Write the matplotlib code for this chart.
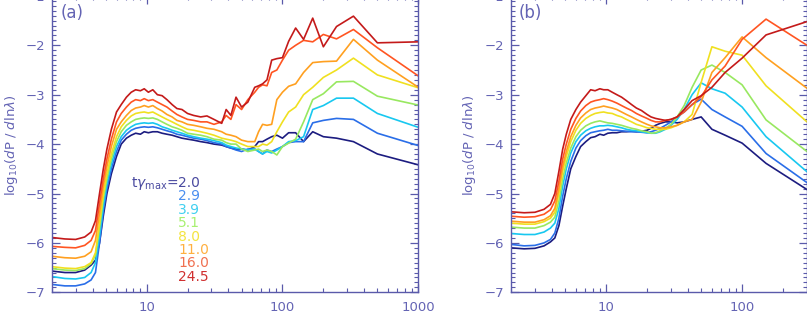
import matplotlib
matplotlib.use("Agg")
import matplotlib.pyplot as plt
from matplotlib.ticker import LogLocator, MultipleLocator, FixedLocator, FixedFormatter, NullFormatter

# ---------------- data ----------------
labels = ["2.0", "2.9", "3.9", "5.1", "8.0", "11.0", "16.0", "24.5"]
colors = ["#1c1c80", "#2a6ee8", "#18c8f0", "#98e860", "#f0e020", "#ffa020", "#ff5522", "#c41a1a"]
text_colors = ["#4a4aa0", "#4a8ef0", "#40d0f0", "#a8f070", "#f4e440", "#ffb040", "#f07050", "#d03030"]

# panel (a)
xa = [2.0, 2.5, 3.0, 3.5, 3.9, 4.2, 4.5, 4.8, 5.1, 5.5, 6.0, 6.5, 7.1, 7.7, 8.3, 9.0, 9.6,
      10.3, 11.1, 12.0, 13.0, 14.1, 15.4, 16.7, 18.2, 20.0, 22.2, 25.0, 27.8, 31.3, 35.7, 38.5, 41.7, 45.5,
      50, 55.6, 62.5, 66.7, 71.4, 76.9, 83.3, 90.9, 100, 111, 125, 143, 167, 200, 250, 333, 500, 1000]

a_navy = [-6.57, -6.60, -6.60, -6.55, -6.45, -6.35, -6.0, -5.45, -5.0, -4.6, -4.25, -4.0, -3.88, -3.82, -3.78, -3.8, -3.75,
          -3.77, -3.75, -3.75, -3.78, -3.8, -3.82, -3.85, -3.88, -3.9, -3.92, -3.95, -3.97, -4.0, -4.02, -4.05, -4.08, -4.1,
          -4.1, -4.12, -4.05, -3.95, -3.95, -3.9, -3.85, -3.82, -3.88, -3.77, -3.77, -3.95, -3.75, -3.85, -3.88, -3.95, -4.2, -4.42]
a_blue = [-6.84, -6.87, -6.87, -6.83, -6.75, -6.6, -6.0, -5.35, -4.9, -4.5, -4.15, -3.92, -3.8, -3.72, -3.68, -3.66, -3.65,
          -3.66, -3.65, -3.67, -3.7, -3.73, -3.76, -3.8, -3.82, -3.85, -3.88, -3.9, -3.93, -3.97, -4.0, -4.05, -4.08, -4.12,
          -4.15, -4.1, -4.1, -4.15, -4.2, -4.12, -4.15, -4.1, -4.05, -3.97, -3.95, -3.95, -3.57, -3.52, -3.48, -3.5, -3.78, -4.03]
a_cyan = [-6.68, -6.72, -6.73, -6.70, -6.6, -6.4, -5.85, -5.25, -4.8, -4.4, -4.05, -3.85, -3.72, -3.65, -3.6, -3.58, -3.57,
          -3.58, -3.57, -3.6, -3.65, -3.68, -3.72, -3.75, -3.78, -3.82, -3.85, -3.88, -3.9, -3.93, -3.97, -4.02, -4.05, -4.08,
          -4.1, -4.12, -4.1, -4.15, -4.2, -4.15, -4.18, -4.12, -4.05, -3.95, -3.93, -3.85, -3.3, -3.22, -3.07, -3.07, -3.38, -3.66]
a_green = [-6.52, -6.55, -6.56, -6.52, -6.42, -6.25, -5.7, -5.1, -4.7, -4.3, -3.95, -3.75, -3.62, -3.55, -3.5, -3.48, -3.47,
           -3.48, -3.47, -3.5, -3.55, -3.6, -3.65, -3.68, -3.72, -3.78, -3.8, -3.82, -3.85, -3.9, -3.92, -3.97, -4.0, -4.0,
           -4.1, -4.15, -4.12, -4.1, -4.15, -4.12, -4.15, -4.22, -4.05, -3.98, -3.9, -3.55, -3.1, -2.98, -2.74, -2.73, -3.03, -3.21]
a_yellow = [-6.48, -6.51, -6.52, -6.48, -6.4, -6.2, -5.6, -5.0, -4.6, -4.2, -3.85, -3.65, -3.52, -3.43, -3.38, -3.36, -3.35,
            -3.37, -3.35, -3.4, -3.45, -3.5, -3.55, -3.6, -3.65, -3.7, -3.72, -3.75, -3.78, -3.82, -3.88, -3.9, -3.92, -3.95,
            -4.0, -4.05, -4.05, -4.05, -4.0, -4.02, -3.95, -3.75, -3.55, -3.35, -3.25, -3.0, -2.85, -2.65, -2.5, -2.26, -2.6, -2.86]
a_orange = [-6.27, -6.30, -6.31, -6.27, -6.18, -5.95, -5.4, -4.85, -4.45, -4.05, -3.7, -3.55, -3.42, -3.32, -3.27, -3.25, -3.22,
            -3.25, -3.22, -3.28, -3.33, -3.4, -3.45, -3.52, -3.55, -3.6, -3.62, -3.65, -3.68, -3.7, -3.75, -3.8, -3.82, -3.85,
            -3.92, -3.95, -3.95, -3.75, -3.6, -3.62, -3.6, -3.1, -2.95, -2.83, -2.78, -2.55, -2.35, -2.33, -2.32, -1.88, -2.3, -2.85]
a_orred = [-6.07, -6.09, -6.10, -6.05, -5.95, -5.75, -5.2, -4.7, -4.3, -3.9, -3.55, -3.38, -3.25, -3.15, -3.1, -3.12, -3.08,
           -3.12, -3.1, -3.15, -3.2, -3.25, -3.33, -3.4, -3.45, -3.5, -3.52, -3.55, -3.55, -3.6, -3.55, -3.42, -3.5, -3.2,
           -3.3, -3.1, -2.95, -2.85, -2.8, -2.82, -2.55, -2.5, -2.3, -2.1, -2.0, -1.9, -1.93, -1.78, -1.87, -1.68, -2.05, -2.62]
a_red = [-5.89, -5.92, -5.93, -5.88, -5.78, -5.55, -5.0, -4.5, -4.1, -3.7, -3.35, -3.2, -3.05, -2.95, -2.9, -2.92, -2.88,
         -2.95, -2.9, -3.0, -3.02, -3.1, -3.2, -3.28, -3.3, -3.38, -3.42, -3.45, -3.43, -3.5, -3.58, -3.3, -3.42, -3.05,
         -3.25, -3.15, -2.85, -2.82, -2.78, -2.7, -2.3, -2.27, -2.25, -1.92, -1.65, -1.88, -1.45, -2.03, -1.62, -1.41, -1.95, -1.93]

# panel (b)
xb = [2.0, 2.5, 3.0, 3.5, 3.9, 4.2, 4.5, 4.8, 5.1, 5.5, 6.0, 6.5, 7.1, 7.7, 8.3, 9.0, 9.6,
      10.3, 11.1, 12.0, 13.0, 14.1, 15.4, 16.7, 18.2, 20.0, 21.4, 23.1, 25.0, 27.3, 30.0, 33.3, 37.5, 42.9,
      50, 60, 75, 100, 150, 300]

b_navy = [-6.10, -6.12, -6.11, -6.06, -5.98, -5.9, -5.65, -5.25, -4.9, -4.5, -4.25, -4.05, -3.95, -3.87, -3.85, -3.8, -3.82,
          -3.78, -3.77, -3.77, -3.75, -3.75, -3.74, -3.75, -3.74, -3.72, -3.68, -3.62, -3.58, -3.55, -3.55, -3.57, -3.55, -3.5,
          -3.45, -3.7, -3.82, -3.98, -4.39, -4.92]
b_blue = [-6.03, -6.06, -6.05, -6.0, -5.93, -5.8, -5.5, -5.05, -4.7, -4.35, -4.08, -3.93, -3.83, -3.77, -3.75, -3.73, -3.72,
          -3.7, -3.72, -3.72, -3.73, -3.74, -3.75, -3.75, -3.76, -3.77, -3.75, -3.72, -3.68, -3.62, -3.55, -3.45, -3.35, -3.2,
          -3.09, -3.3, -3.45, -3.64, -4.19, -4.78]
b_cyan = [-5.81, -5.83, -5.83, -5.78, -5.7, -5.6, -5.3, -4.85, -4.5, -4.18, -3.95, -3.82, -3.73, -3.68, -3.65, -3.63, -3.63,
          -3.62, -3.63, -3.65, -3.67, -3.7, -3.72, -3.73, -3.75, -3.77, -3.78, -3.78, -3.75, -3.7, -3.62, -3.5, -3.3, -3.0,
          -2.76, -2.88, -2.97, -3.25, -3.85, -4.56]
b_green = [-5.68, -5.70, -5.70, -5.65, -5.58, -5.48, -5.15, -4.7, -4.38, -4.08, -3.85, -3.72, -3.63, -3.58, -3.55, -3.53, -3.55,
           -3.57, -3.58, -3.6, -3.62, -3.65, -3.68, -3.7, -3.73, -3.75, -3.78, -3.77, -3.73, -3.68, -3.6, -3.45, -3.22, -2.85,
           -2.5, -2.4, -2.55, -2.8, -3.51, -4.15]
b_yellow = [-5.60, -5.62, -5.62, -5.57, -5.5, -5.38, -5.0, -4.55, -4.25, -3.95, -3.72, -3.58, -3.48, -3.42, -3.38, -3.36, -3.35,
            -3.37, -3.38, -3.42, -3.45, -3.5, -3.55, -3.6, -3.63, -3.67, -3.68, -3.7, -3.7, -3.7, -3.67, -3.62, -3.55, -3.4,
            -2.75, -2.03, -2.12, -2.2, -2.82, -3.55]
b_orange = [-5.56, -5.58, -5.58, -5.53, -5.45, -5.3, -4.9, -4.45, -4.15, -3.85, -3.62, -3.47, -3.37, -3.3, -3.27, -3.25, -3.23,
            -3.25, -3.27, -3.3, -3.35, -3.4, -3.45, -3.5, -3.55, -3.6, -3.63, -3.65, -3.67, -3.67, -3.65, -3.62, -3.55, -3.5,
            -3.15, -2.55, -2.25, -1.83, -2.25, -2.87]
b_orred = [-5.46, -5.48, -5.47, -5.42, -5.33, -5.15, -4.75, -4.3, -4.0, -3.7, -3.48, -3.33, -3.22, -3.15, -3.12, -3.1, -3.08,
           -3.1, -3.13, -3.17, -3.22, -3.27, -3.32, -3.38, -3.43, -3.48, -3.52, -3.55, -3.55, -3.52, -3.5, -3.45, -3.35, -3.2,
           -3.04, -2.7, -2.42, -1.88, -1.47, -2.0]
b_red = [-5.37, -5.39, -5.38, -5.32, -5.22, -5.0, -4.55, -4.1, -3.8, -3.5, -3.3, -3.15, -3.02, -2.9, -2.92, -2.88, -2.9,
         -2.9, -2.95, -3.0, -3.05, -3.12, -3.2, -3.27, -3.32, -3.4, -3.45, -3.48, -3.5, -3.52, -3.5, -3.45, -3.3, -3.12,
         -3.02, -2.85, -2.55, -2.26, -1.79, -1.52]

series_a = [a_navy, a_blue, a_cyan, a_green, a_yellow, a_orange, a_orred, a_red]
series_b = [b_navy, b_blue, b_cyan, b_green, b_yellow, b_orange, b_orred, b_red]

ytick_vals = [-7, -6, -5, -4, -3, -2, -1]
xticks_a = [10, 100, 1000]
xticks_b = [10, 100]

# ---------------- figure ----------------
W, H = 807, 313
fig = plt.figure(figsize=(W / 100, H / 100), dpi=100)
axcol = "#5a5aaa"
txtcol = "#6464b4"

def px_rect(x0, x1, ybot, ytop):
    return [x0 / W, (H - ybot) / H, (x1 - x0) / W, (ybot - ytop) / H]

axA = fig.add_axes(px_rect(51.7, 418.3, 292.3, -4.1))
axB = fig.add_axes(px_rect(511.0, 807.0, 292.3, -4.1))

def style(ax, xmax, xticks, panel, label_x):
    ax.set_xscale("log")
    ax.set_xlim(2, xmax)
    ax.set_ylim(-7, -1)
    for s in ax.spines.values():
        s.set_color(axcol)
        s.set_linewidth(1.0)
    ax.xaxis.set_major_locator(FixedLocator(xticks))
    ax.xaxis.set_major_formatter(FixedFormatter([str(t) for t in xticks]))
    ax.xaxis.set_minor_locator(LogLocator(base=10, subs=range(2, 10), numticks=20))
    ax.xaxis.set_minor_formatter(NullFormatter())
    ax.yaxis.set_major_locator(FixedLocator(ytick_vals))
    ax.yaxis.set_minor_locator(MultipleLocator(0.1))
    ax.tick_params(which="both", direction="in", top=True, right=True, color=axcol,
                   labelcolor=txtcol, labelsize=9.5)
    ax.tick_params(which="major", length=6, width=0.9)
    ax.tick_params(which="minor", length=3, width=0.8)
    ax.tick_params(axis="x", pad=6)
    ax.tick_params(axis="y", pad=5)
    ax.set_ylabel(r"log$_{10}$($\mathit{d}$P / $\mathit{d}$ln$\lambda$)", color=txtcol, fontsize=9.5)
    ax.yaxis.set_label_coords(label_x, 0.497)
    ax.text(0.025, 0.942, panel, transform=ax.transAxes, color=txtcol, fontsize=12,
            ha="left", va="center")

for ys, c in zip(series_a, colors):
    axA.plot(xa, ys, color=c, lw=1.2)
for ys, c in zip(series_b, colors):
    axB.plot(xb, ys, color=c, lw=1.2)

style(axA, 1000, xticks_a, "(a)", -0.086)
style(axB, 300, xticks_b, "(b)", -0.110)

# legend text in panel (a)
x_num = (178 - 51.7) / 366.6
for i, (lab, tc) in enumerate(zip(labels, text_colors)):
    py = 183 + 13.4 * i
    yax = (292.3 - py) / 296.4
    axA.text(x_num, yax, lab, transform=axA.transAxes, color=tc, fontsize=10,
             ha="left", va="center")
    if i == 0:
        axA.text(x_num, yax, r"t$\gamma_{\rm max}$=", transform=axA.transAxes, color=tc,
                 fontsize=10, ha="right", va="center")

fig.savefig("out.png", dpi=100)
